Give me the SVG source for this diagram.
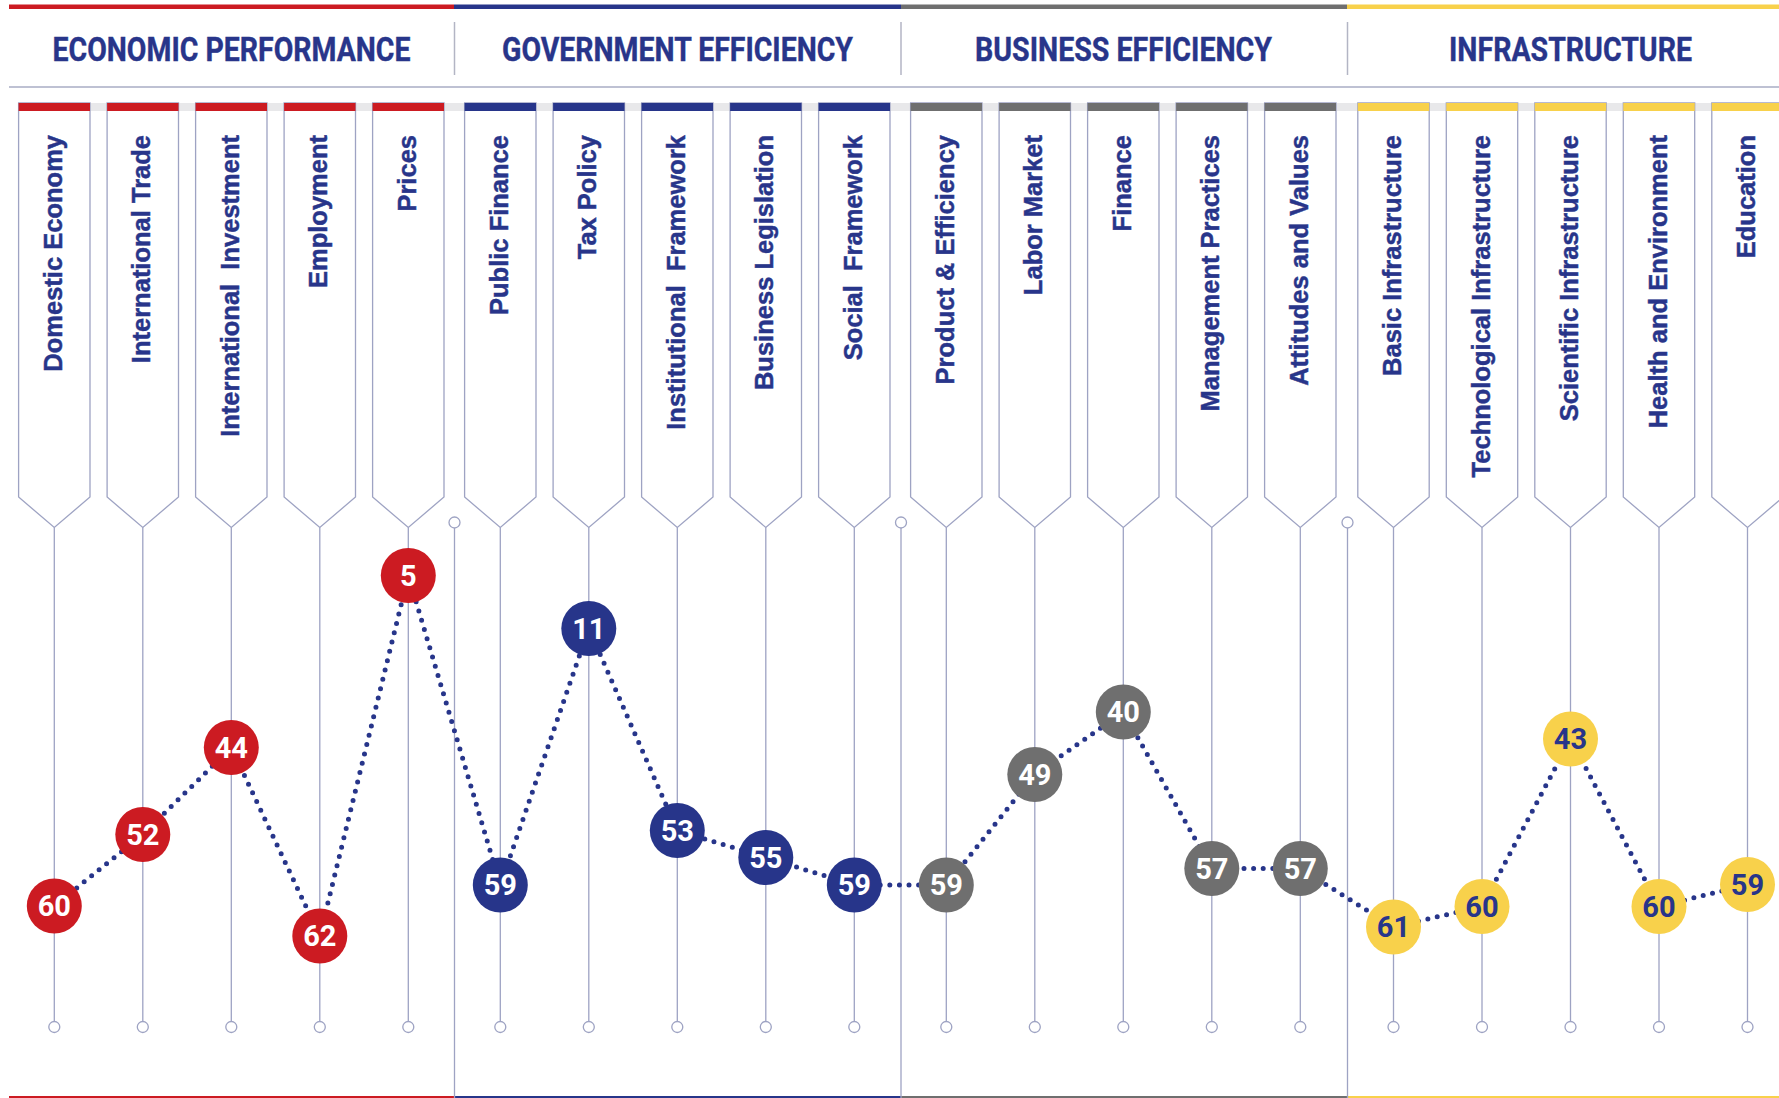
<svg xmlns="http://www.w3.org/2000/svg" width="1779" height="1098" viewBox="0 0 1779 1098">
<style>
.hdr{font-family:Roboto,"Liberation Sans",sans-serif;font-weight:700;font-size:34px;fill:#28358a;text-anchor:middle;stroke:#28358a;stroke-width:0.4}
.lbl{font-family:"Liberation Sans",Arial,sans-serif;font-weight:700;font-size:25.5px;fill:#28358a;stroke:#28358a;stroke-width:0.45;text-anchor:end;white-space:pre}
.tab{fill:#fff;stroke:#9ea3c3;stroke-width:1.3}
.ln{stroke:#9ea3c3;stroke-width:1.3;fill:none}
.dot{fill:#fff;stroke:#9ea3c3;stroke-width:1.3}
.num{font-family:Roboto,"Liberation Sans",sans-serif;font-weight:700;font-size:29px;text-anchor:middle;fill:#fff}
.red{fill:#cc1b22}.blue{fill:#27358a}.gray{fill:#6f6f6f}.yel{fill:#f8d14b}
.ny{fill:#28358a}
.conn{fill:none;stroke:#27358a;stroke-width:5;stroke-linecap:round;stroke-dasharray:0 9.6}
</style>
<rect width="1779" height="1098" fill="#fff"/>
<g id="frame">
<rect x="9" y="4.5" width="445" height="4.5" class="red"/>
<rect x="454" y="4.5" width="447" height="4.5" class="blue"/>
<rect x="901" y="4.5" width="446" height="4.5" class="gray"/>
<rect x="1347" y="4.5" width="432" height="4.5" class="yel"/>
<line x1="454.5" y1="22" x2="454.5" y2="75" stroke="#b3b5c4" stroke-width="1.5"/>
<line x1="901" y1="22" x2="901" y2="75" stroke="#b3b5c4" stroke-width="1.5"/>
<line x1="1347.5" y1="22" x2="1347.5" y2="75" stroke="#b3b5c4" stroke-width="1.5"/>
<line x1="9" y1="87" x2="1779" y2="87" stroke="#a9acc4" stroke-width="1.6"/>
<text class="hdr" x="231.5" y="61" textLength="358" lengthAdjust="spacingAndGlyphs">ECONOMIC PERFORMANCE</text>
<text class="hdr" x="677.5" y="61" textLength="351" lengthAdjust="spacingAndGlyphs">GOVERNMENT EFFICIENCY</text>
<text class="hdr" x="1123.5" y="61" textLength="297" lengthAdjust="spacingAndGlyphs">BUSINESS EFFICIENCY</text>
<text class="hdr" x="1570.5" y="61" textLength="243" lengthAdjust="spacingAndGlyphs">INFRASTRUCTURE</text>
<rect x="18.5" y="103" width="1760.5" height="8" fill="#e8e8ea"/>
<rect x="9" y="1096" width="445.5" height="2" class="red"/>
<rect x="454.5" y="1096" width="446.5" height="2" class="blue"/>
<rect x="901" y="1096" width="446.5" height="2" class="gray"/>
<rect x="1347.5" y="1096" width="431.5" height="2" class="yel"/>
<line class="ln" x1="454.5" y1="528" x2="454.5" y2="1098"/><circle class="dot" cx="454.5" cy="522.5" r="5.5"/>
<line class="ln" x1="901" y1="528" x2="901" y2="1098"/><circle class="dot" cx="901" cy="522.5" r="5.5"/>
<line class="ln" x1="1347.5" y1="528" x2="1347.5" y2="1098"/><circle class="dot" cx="1347.5" cy="522.5" r="5.5"/>
</g>
<g id="tab-domestic-economy"><path class="tab" d="M18.6 103V497L54.3 527.5L90 497V103Z"/><rect x="18.6" y="103" width="71.4" height="8" class="red"/><text class="lbl" transform="translate(61.8 135) rotate(-90)">Domestic Economy</text><line class="ln" x1="54.3" y1="527.5" x2="54.3" y2="1021.5"/><circle class="dot" cx="54.3" cy="1027" r="5.5"/></g>
<g id="tab-international-trade"><path class="tab" d="M107.1 103V497L142.8 527.5L178.5 497V103Z"/><rect x="107.1" y="103" width="71.4" height="8" class="red"/><text class="lbl" transform="translate(150.3 135) rotate(-90)">International Trade</text><line class="ln" x1="142.8" y1="527.5" x2="142.8" y2="1021.5"/><circle class="dot" cx="142.8" cy="1027" r="5.5"/></g>
<g id="tab-international-investment"><path class="tab" d="M195.6 103V497L231.3 527.5L267 497V103Z"/><rect x="195.6" y="103" width="71.4" height="8" class="red"/><text class="lbl" transform="translate(238.8 135) rotate(-90)">International  Investment</text><line class="ln" x1="231.3" y1="527.5" x2="231.3" y2="1021.5"/><circle class="dot" cx="231.3" cy="1027" r="5.5"/></g>
<g id="tab-employment"><path class="tab" d="M284.1 103V497L319.8 527.5L355.5 497V103Z"/><rect x="284.1" y="103" width="71.4" height="8" class="red"/><text class="lbl" transform="translate(327.3 135) rotate(-90)">Employment</text><line class="ln" x1="319.8" y1="527.5" x2="319.8" y2="1021.5"/><circle class="dot" cx="319.8" cy="1027" r="5.5"/></g>
<g id="tab-prices"><path class="tab" d="M372.6 103V497L408.3 527.5L444 497V103Z"/><rect x="372.6" y="103" width="71.4" height="8" class="red"/><text class="lbl" transform="translate(415.8 135) rotate(-90)">Prices</text><line class="ln" x1="408.3" y1="527.5" x2="408.3" y2="1021.5"/><circle class="dot" cx="408.3" cy="1027" r="5.5"/></g>
<g id="tab-public-finance"><path class="tab" d="M464.6 103V497L500.3 527.5L536 497V103Z"/><rect x="464.6" y="103" width="71.4" height="8" class="blue"/><text class="lbl" transform="translate(507.8 135) rotate(-90)">Public Finance</text><line class="ln" x1="500.3" y1="527.5" x2="500.3" y2="1021.5"/><circle class="dot" cx="500.3" cy="1027" r="5.5"/></g>
<g id="tab-tax-policy"><path class="tab" d="M553.1 103V497L588.8 527.5L624.5 497V103Z"/><rect x="553.1" y="103" width="71.4" height="8" class="blue"/><text class="lbl" transform="translate(596.3 135) rotate(-90)">Tax Policy</text><line class="ln" x1="588.8" y1="527.5" x2="588.8" y2="1021.5"/><circle class="dot" cx="588.8" cy="1027" r="5.5"/></g>
<g id="tab-institutional-framework"><path class="tab" d="M641.6 103V497L677.3 527.5L713 497V103Z"/><rect x="641.6" y="103" width="71.4" height="8" class="blue"/><text class="lbl" transform="translate(684.8 135) rotate(-90)">Institutional  Framework</text><line class="ln" x1="677.3" y1="527.5" x2="677.3" y2="1021.5"/><circle class="dot" cx="677.3" cy="1027" r="5.5"/></g>
<g id="tab-business-legislation"><path class="tab" d="M730.1 103V497L765.8 527.5L801.5 497V103Z"/><rect x="730.1" y="103" width="71.4" height="8" class="blue"/><text class="lbl" transform="translate(773.3 135) rotate(-90)">Business Legislation</text><line class="ln" x1="765.8" y1="527.5" x2="765.8" y2="1021.5"/><circle class="dot" cx="765.8" cy="1027" r="5.5"/></g>
<g id="tab-social-framework"><path class="tab" d="M818.6 103V497L854.3 527.5L890 497V103Z"/><rect x="818.6" y="103" width="71.4" height="8" class="blue"/><text class="lbl" transform="translate(861.8 135) rotate(-90)">Social  Framework</text><line class="ln" x1="854.3" y1="527.5" x2="854.3" y2="1021.5"/><circle class="dot" cx="854.3" cy="1027" r="5.5"/></g>
<g id="tab-product-efficiency"><path class="tab" d="M910.6 103V497L946.3 527.5L982 497V103Z"/><rect x="910.6" y="103" width="71.4" height="8" class="gray"/><text class="lbl" transform="translate(953.8 135) rotate(-90)">Product &amp; Efficiency</text><line class="ln" x1="946.3" y1="527.5" x2="946.3" y2="1021.5"/><circle class="dot" cx="946.3" cy="1027" r="5.5"/></g>
<g id="tab-labor-market"><path class="tab" d="M999.1 103V497L1034.8 527.5L1070.5 497V103Z"/><rect x="999.1" y="103" width="71.4" height="8" class="gray"/><text class="lbl" transform="translate(1042.3 135) rotate(-90)">Labor Market</text><line class="ln" x1="1034.8" y1="527.5" x2="1034.8" y2="1021.5"/><circle class="dot" cx="1034.8" cy="1027" r="5.5"/></g>
<g id="tab-finance"><path class="tab" d="M1087.6 103V497L1123.3 527.5L1159 497V103Z"/><rect x="1087.6" y="103" width="71.4" height="8" class="gray"/><text class="lbl" transform="translate(1130.8 135) rotate(-90)">Finance</text><line class="ln" x1="1123.3" y1="527.5" x2="1123.3" y2="1021.5"/><circle class="dot" cx="1123.3" cy="1027" r="5.5"/></g>
<g id="tab-management-practices"><path class="tab" d="M1176.1 103V497L1211.8 527.5L1247.5 497V103Z"/><rect x="1176.1" y="103" width="71.4" height="8" class="gray"/><text class="lbl" transform="translate(1219.3 135) rotate(-90)">Management Practices</text><line class="ln" x1="1211.8" y1="527.5" x2="1211.8" y2="1021.5"/><circle class="dot" cx="1211.8" cy="1027" r="5.5"/></g>
<g id="tab-attitudes-values"><path class="tab" d="M1264.6 103V497L1300.3 527.5L1336 497V103Z"/><rect x="1264.6" y="103" width="71.4" height="8" class="gray"/><text class="lbl" transform="translate(1307.8 135) rotate(-90)">Attitudes and Values</text><line class="ln" x1="1300.3" y1="527.5" x2="1300.3" y2="1021.5"/><circle class="dot" cx="1300.3" cy="1027" r="5.5"/></g>
<g id="tab-basic-infrastructure"><path class="tab" d="M1357.8 103V497L1393.5 527.5L1429.2 497V103Z"/><rect x="1357.8" y="103" width="71.4" height="8" class="yel"/><text class="lbl" transform="translate(1401 135) rotate(-90)">Basic Infrastructure</text><line class="ln" x1="1393.5" y1="527.5" x2="1393.5" y2="1021.5"/><circle class="dot" cx="1393.5" cy="1027" r="5.5"/></g>
<g id="tab-technological-infrastructure"><path class="tab" d="M1446.3 103V497L1482 527.5L1517.7 497V103Z"/><rect x="1446.3" y="103" width="71.4" height="8" class="yel"/><text class="lbl" transform="translate(1489.5 135) rotate(-90)">Technological Infrastructure</text><line class="ln" x1="1482" y1="527.5" x2="1482" y2="1021.5"/><circle class="dot" cx="1482" cy="1027" r="5.5"/></g>
<g id="tab-scientific-infrastructure"><path class="tab" d="M1534.8 103V497L1570.5 527.5L1606.2 497V103Z"/><rect x="1534.8" y="103" width="71.4" height="8" class="yel"/><text class="lbl" transform="translate(1578 135) rotate(-90)">Scientific Infrastructure</text><line class="ln" x1="1570.5" y1="527.5" x2="1570.5" y2="1021.5"/><circle class="dot" cx="1570.5" cy="1027" r="5.5"/></g>
<g id="tab-health-environment"><path class="tab" d="M1623.3 103V497L1659 527.5L1694.7 497V103Z"/><rect x="1623.3" y="103" width="71.4" height="8" class="yel"/><text class="lbl" transform="translate(1666.5 135) rotate(-90)">Health and Environment</text><line class="ln" x1="1659" y1="527.5" x2="1659" y2="1021.5"/><circle class="dot" cx="1659" cy="1027" r="5.5"/></g>
<g id="tab-education"><path class="tab" d="M1711.8 103V497L1747.5 527.5L1783.2 497V103Z"/><rect x="1711.8" y="103" width="71.4" height="8" class="yel"/><text class="lbl" transform="translate(1755 135) rotate(-90)">Education</text><line class="ln" x1="1747.5" y1="527.5" x2="1747.5" y2="1021.5"/><circle class="dot" cx="1747.5" cy="1027" r="5.5"/></g>
<g id="connectors">
<polyline class="conn" points="54.3,906 142.8,834.5 231.3,747.5 319.8,936 408.3,575.5 500.3,885 588.8,628.5 677.3,830.5 765.8,857.5 854.3,885 946.3,885 1034.8,774.5 1123.3,712 1211.8,868.5 1300.3,868.5 1393.5,927 1482,906.5 1570.5,739 1659,906.5 1747.5,884.5"/>
</g>
<g id="score-domestic-economy"><circle cx="54.3" cy="906" r="27.5" class="red"/><text class="num" x="54.3" y="916">60</text></g>
<g id="score-international-trade"><circle cx="142.8" cy="834.5" r="27.5" class="red"/><text class="num" x="142.8" y="844.5">52</text></g>
<g id="score-international-investment"><circle cx="231.3" cy="747.5" r="27.5" class="red"/><text class="num" x="231.3" y="757.5">44</text></g>
<g id="score-employment"><circle cx="319.8" cy="936" r="27.5" class="red"/><text class="num" x="319.8" y="946">62</text></g>
<g id="score-prices"><circle cx="408.3" cy="575.5" r="27.5" class="red"/><text class="num" x="408.3" y="585.5">5</text></g>
<g id="score-public-finance"><circle cx="500.3" cy="885" r="27.5" class="blue"/><text class="num" x="500.3" y="895">59</text></g>
<g id="score-tax-policy"><circle cx="588.8" cy="628.5" r="27.5" class="blue"/><text class="num" x="588.8" y="638.5">11</text></g>
<g id="score-institutional-framework"><circle cx="677.3" cy="830.5" r="27.5" class="blue"/><text class="num" x="677.3" y="840.5">53</text></g>
<g id="score-business-legislation"><circle cx="765.8" cy="857.5" r="27.5" class="blue"/><text class="num" x="765.8" y="867.5">55</text></g>
<g id="score-social-framework"><circle cx="854.3" cy="885" r="27.5" class="blue"/><text class="num" x="854.3" y="895">59</text></g>
<g id="score-product-efficiency"><circle cx="946.3" cy="885" r="27.5" class="gray"/><text class="num" x="946.3" y="895">59</text></g>
<g id="score-labor-market"><circle cx="1034.8" cy="774.5" r="27.5" class="gray"/><text class="num" x="1034.8" y="784.5">49</text></g>
<g id="score-finance"><circle cx="1123.3" cy="712" r="27.5" class="gray"/><text class="num" x="1123.3" y="722">40</text></g>
<g id="score-management-practices"><circle cx="1211.8" cy="868.5" r="27.5" class="gray"/><text class="num" x="1211.8" y="878.5">57</text></g>
<g id="score-attitudes-values"><circle cx="1300.3" cy="868.5" r="27.5" class="gray"/><text class="num" x="1300.3" y="878.5">57</text></g>
<g id="score-basic-infrastructure"><circle cx="1393.5" cy="927" r="27.5" class="yel"/><text class="num ny" x="1393.5" y="937">61</text></g>
<g id="score-technological-infrastructure"><circle cx="1482" cy="906.5" r="27.5" class="yel"/><text class="num ny" x="1482" y="916.5">60</text></g>
<g id="score-scientific-infrastructure"><circle cx="1570.5" cy="739" r="27.5" class="yel"/><text class="num ny" x="1570.5" y="749">43</text></g>
<g id="score-health-environment"><circle cx="1659" cy="906.5" r="27.5" class="yel"/><text class="num ny" x="1659" y="916.5">60</text></g>
<g id="score-education"><circle cx="1747.5" cy="884.5" r="27.5" class="yel"/><text class="num ny" x="1747.5" y="894.5">59</text></g>
</svg>
